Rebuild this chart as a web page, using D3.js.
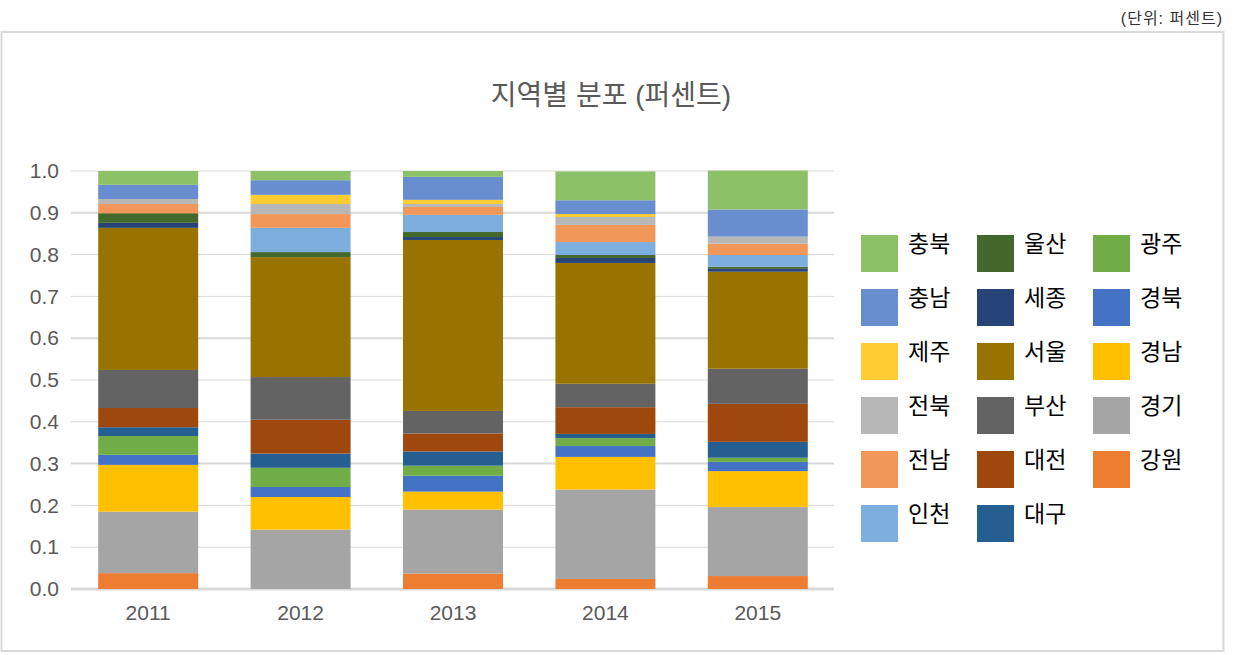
<!DOCTYPE html>
<html>
<head>
<meta charset="utf-8">
<script src="https://cdn.jsdelivr.net/npm/d3@7"></script>
<style>
  body { margin: 0; background: #fff; }
  text { font-family: "Liberation Sans", "Noto Sans CJK KR", sans-serif; }
</style>
</head>
<body>
<div id="chart"></div>
<script>
// years on the x axis
var years = ["2011", "2012", "2013", "2014", "2015"];

// regions, stacked from the bottom up
var regions = ["강원", "경기", "경남", "경북", "광주", "대구", "대전", "부산",
  "서울", "세종", "울산", "인천", "전남", "전북", "제주", "충남", "충북"];

// share of each region per year (2011..2015)
var gangwon   = [0.038, 0.000, 0.037, 0.024, 0.031];
var gyeonggi  = [0.147, 0.142, 0.153, 0.214, 0.165];
var gyeongnam = [0.112, 0.078, 0.043, 0.078, 0.086];
var gyeongbuk = [0.024, 0.024, 0.038, 0.026, 0.022];
var gwangju   = [0.045, 0.046, 0.024, 0.019, 0.010];
var daegu     = [0.021, 0.034, 0.034, 0.010, 0.038];
var daejeon   = [0.046, 0.081, 0.043, 0.064, 0.091];
var busan     = [0.091, 0.102, 0.054, 0.056, 0.084];
var seoul     = [0.340, 0.287, 0.409, 0.289, 0.232];
var sejong    = [0.012, 0.000, 0.007, 0.012, 0.007];
var ulsan     = [0.023, 0.012, 0.012, 0.007, 0.005];
var incheon   = [0.000, 0.058, 0.041, 0.031, 0.028];
var jeonnam   = [0.022, 0.033, 0.019, 0.041, 0.027];
var jeonbuk   = [0.012, 0.024, 0.007, 0.019, 0.017];
var jeju      = [0.000, 0.022, 0.010, 0.007, 0.000];
var chungnam  = [0.034, 0.035, 0.055, 0.033, 0.065];
var chungbuk  = [0.033, 0.022, 0.014, 0.069, 0.093];

var yTicks = [0, 0.1, 0.2, 0.3, 0.4, 0.5, 0.6, 0.7, 0.8, 0.9, 1.0];

var seriesValues = [gangwon, gyeonggi, gyeongnam, gyeongbuk, gwangju, daegu,
  daejeon, busan, seoul, sejong, ulsan, incheon, jeonnam, jeonbuk, jeju,
  chungnam, chungbuk];

var colors = ["#ED7D31", "#A5A5A5", "#FFC000", "#4472C4", "#70AD47", "#255E91",
  "#9E480E", "#636363", "#997300", "#264478", "#43682B", "#7CAFDD", "#F1975A",
  "#B7B7B7", "#FFCD33", "#698ED0", "#8CC168"];

// build rows for d3.stack
var table = years.map(function(y, i) {
  var row = { year: y };
  regions.forEach(function(r, j) { row[r] = seriesValues[j][i]; });
  return row;
});

var width = 1249, height = 655;

var svg = d3.select("#chart").append("svg")
  .attr("width", width)
  .attr("height", height);

// outer frame
svg.append("rect")
  .attr("x", 1.5).attr("y", 32)
  .attr("width", 1222).attr("height", 619)
  .attr("fill", "none")
  .attr("stroke", "#d9d9d9")
  .attr("stroke-width", 2);

// unit note
svg.append("text")
  .attr("x", 1223).attr("y", 24)
  .attr("text-anchor", "end")
  .style("font-size", "16px")
  .style("letter-spacing", "1px")
  .style("fill", "#333")
  .text("(단위:  퍼센트)");

// title
svg.append("text")
  .attr("x", 611).attr("y", 105)
  .attr("text-anchor", "middle")
  .style("font-size", "28px")
  .style("fill", "#595959")
  .text("지역별 분포 (퍼센트)");

var x = d3.scaleBand()
  .domain(years)
  .range([72, 834])
  .paddingInner(0.344)
  .paddingOuter(0.172);

var y = d3.scaleLinear()
  .domain([0, 1])
  .range([589, 171]);

// gridlines
svg.append("g")
  .selectAll("line")
  .data(yTicks)
  .enter()
  .append("line")
  .attr("x1", 71).attr("x2", 834)
  .attr("y1", function(d) { return y(d); })
  .attr("y2", function(d) { return y(d); })
  .attr("stroke", "#d9d9d9")
  .attr("stroke-width", function(d, i) { return i == 0 ? 3 : (i % 3 == 0 ? 2 : 1); });

// y axis labels
var yAxis = d3.axisLeft(y)
  .tickValues(yTicks)
  .tickFormat(d3.format(".1f"))
  .tickSize(0)
  .tickPadding(0);

var gy = svg.append("g")
  .attr("transform", "translate(59,0)")
  .call(yAxis);
gy.select(".domain").remove();
gy.selectAll("text")
  .style("font-size", "21px")
  .style("fill", "#595959")
  .style("font-family", "Liberation Sans, sans-serif");

// stacked bars
var stack = d3.stack().keys(regions);
var layers = stack(table);

svg.append("g")
  .selectAll("g")
  .data(layers)
  .enter()
  .append("g")
  .attr("fill", function(d, i) { return colors[i]; })
  .selectAll("rect")
  .data(function(d) { return d; })
  .enter()
  .append("rect")
  .attr("x", function(d) { return x(d.data.year); })
  .attr("width", x.bandwidth())
  .attr("y", function(d) { return y(d[1]); })
  .attr("height", function(d) { return y(d[0]) - y(d[1]); });

// x axis labels
var xAxis = d3.axisBottom(x).tickSize(0).tickPadding(0);
var gx = svg.append("g")
  .attr("transform", "translate(0,605)")
  .call(xAxis);
gx.select(".domain").remove();
gx.selectAll("text")
  .style("font-size", "21px")
  .style("fill", "#595959")
  .style("font-family", "Liberation Sans, sans-serif");

// legend, reversed order, filled column by column
var legendOrder = regions.slice().reverse();
var legend = svg.append("g")
  .selectAll("g")
  .data(legendOrder)
  .enter()
  .append("g")
  .attr("transform", function(d, i) {
    var col = Math.floor(i / 6), row = i % 6;
    return "translate(" + (861 + col * 116) + "," + (235 + row * 54) + ")";
  });

legend.append("rect")
  .attr("width", 37)
  .attr("height", 37)
  .attr("fill", function(d) { return colors[regions.indexOf(d)]; });

legend.append("text")
  .attr("x", 47)
  .attr("y", 9)
  .attr("dy", "0.36em")
  .style("font-size", "23px")
  .style("fill", "#000")
  .text(function(d) { return d; });
</script>
</body>
</html>
